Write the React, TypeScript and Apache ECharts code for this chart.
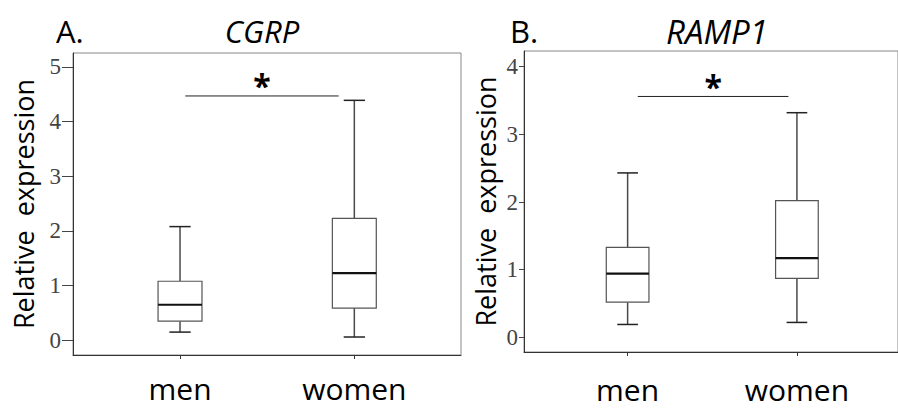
import React, { useEffect, useRef } from "react";
import * as echarts from "echarts";

// ---- data ----
const categories = ["men", "women"];
// five-number summaries: [min, Q1, median, Q3, max]
const cgrpMen = [0.15, 0.35, 0.65, 1.08, 2.08];
const cgrpWomen = [0.06, 0.59, 1.23, 2.23, 4.39];
const ramp1Men = [0.19, 0.52, 0.94, 1.33, 2.43];
const ramp1Women = [0.22, 0.87, 1.17, 2.02, 3.32];
const cgrpTicks = [0, 1, 2, 3, 4, 5];
const ramp1Ticks = [0, 1, 2, 3, 4];
const panelLetters = ["A.", "B."];
const geneNames = ["CGRP", "RAMP1"];
const yAxisTitle = "Relative  expression";
const sigMark = "*";
// significance bar: [from x, to x, level]
const cgrpSig = [0.03, 0.91, 4.47];
const ramp1Sig = [0.06, 0.95, 3.56];

const BOX_W = 0.252;
const CAP_W = 0.122;
const SANS = "'Open Sans', 'Noto Sans', sans-serif";
const SERIF = "'Liberation Serif', 'DejaVu Serif', serif";

const boxRows = (a: number[], b: number[]) => [
  [0, ...a],
  [1, ...b],
];

const renderBox = (params: any, api: any) => {
  const x = api.value(0);
  const lo = api.coord([x, api.value(1)]);
  const q1 = api.coord([x, api.value(2)])[1];
  const med = api.coord([x, api.value(3)])[1];
  const q3 = api.coord([x, api.value(4)])[1];
  const hi = api.coord([x, api.value(5)])[1];
  const cx = lo[0];
  const yLo = lo[1];
  const half = api.size([BOX_W, 0])[0] / 2;
  const capHalf = api.size([CAP_W, 0])[0] / 2;
  const wStyle = { stroke: "#4a4a4a", lineWidth: 1.5 };
  return {
    type: "group",
    children: [
      { type: "line", shape: { x1: cx, y1: hi, x2: cx, y2: q3 }, style: wStyle },
      { type: "line", shape: { x1: cx, y1: q1, x2: cx, y2: yLo }, style: wStyle },
      { type: "line", shape: { x1: cx - capHalf, y1: hi, x2: cx + capHalf, y2: hi }, style: { stroke: "#222", lineWidth: 1.5 } },
      { type: "line", shape: { x1: cx - capHalf, y1: yLo, x2: cx + capHalf, y2: yLo }, style: { stroke: "#222", lineWidth: 1.5 } },
      {
        type: "rect",
        shape: { x: cx - half, y: q3, width: half * 2, height: q1 - q3 },
        style: { fill: "#fff", stroke: "#555", lineWidth: 1.2 },
      },
      { type: "line", shape: { x1: cx - half, y1: med, x2: cx + half, y2: med }, style: { stroke: "#111", lineWidth: 2.2 } },
    ],
  };
};

const renderSig = (params: any, api: any) => {
  const y = api.value(2);
  const p1 = api.coord([api.value(0), y]);
  const p2 = api.coord([api.value(1), y]);
  return {
    type: "group",
    children: [
      { type: "line", shape: { x1: p1[0], y1: p1[1], x2: p2[0], y2: p2[1] }, style: { stroke: "#222", lineWidth: 1 } },
      {
        type: "text",
        x: (p1[0] + p2[0]) / 2,
        y: p1[1] - 10,
        style: {
          text: sigMark,
          fill: "#000",
          font: `bold 32px ${SANS}`,
          textAlign: "center",
          textVerticalAlign: "middle",
        },
      },
    ],
  };
};

const makeXAxis = (gridIndex: number, min: number, max: number, margin: number) => ({
  type: "value",
  gridIndex,
  min,
  max,
  splitLine: { show: false },
  axisLine: { show: true, onZero: false, lineStyle: { color: "#333", width: 1 } },
  axisTick: { show: true, customValues: [0, 1], length: 4, lineStyle: { color: "#333" } },
  axisLabel: {
    customValues: [0, 1],
    formatter: (v: number) => categories[Math.round(v)] ?? "",
    fontFamily: SANS,
    fontSize: 30,
    lineHeight: 30,
    color: "#000",
    margin,
  },
});

const makeYAxis = (
  gridIndex: number,
  min: number,
  max: number,
  ticks: number[],
  tickLen: number,
  nameGap: number
) => ({
  type: "value",
  gridIndex,
  min,
  max,
  splitLine: { show: false },
  axisLine: { show: true, onZero: false, lineStyle: { color: "#333", width: 1 } },
  axisTick: { show: true, customValues: ticks, length: tickLen, lineStyle: { color: "#444" } },
  axisLabel: { customValues: ticks, fontFamily: SERIF, fontSize: 23, color: "#444", margin: tickLen + 1 },
  name: yAxisTitle,
  nameLocation: "middle",
  nameRotate: 90,
  nameGap,
  nameTextStyle: { fontFamily: SANS, fontSize: 27, color: "#000" },
});

export default function App() {
  const ref = useRef<HTMLDivElement>(null);
  useEffect(() => {
    if (!ref.current) return;
    const chart = echarts.init(ref.current, undefined, { renderer: "svg" });
    const titleStyle = { fontFamily: SANS, fontSize: 31, fontWeight: "normal", color: "#000" };
    chart.setOption({
      animation: false,
      backgroundColor: "#fff",
      title: [
        { text: panelLetters[0], left: 51, top: 10, textStyle: titleStyle },
        { text: geneNames[0], left: 257, textAlign: "center", top: 10, textStyle: { ...titleStyle, fontStyle: "italic" } },
        { text: panelLetters[1], left: 505, top: 10, textStyle: titleStyle },
        { text: geneNames[1], left: 712, textAlign: "center", top: 10, textStyle: { ...titleStyle, fontStyle: "italic", fontSize: 33 } },
      ],
      grid: [
        { left: 73, top: 53, width: 388, height: 302, show: true, borderColor: "#888", borderWidth: 1, backgroundColor: "transparent" },
        { left: 524, top: 51, width: 380, height: 301, show: true, borderColor: "#888", borderWidth: 1, backgroundColor: "transparent" },
      ],
      xAxis: [makeXAxis(0, -0.614, 1.612, 18), makeXAxis(1, -0.612, 1.597, 22)],
      yAxis: [
        makeYAxis(0, -0.269, 5.256, cgrpTicks, 11, 36),
        makeYAxis(1, -0.217, 4.232, ramp1Ticks, 5, 25),
      ],
      series: [
        {
          type: "custom",
          xAxisIndex: 0,
          yAxisIndex: 0,
          renderItem: renderBox,
          encode: { x: 0, y: [1, 2, 3, 4, 5] },
          data: boxRows(cgrpMen, cgrpWomen),
          clip: false,
          silent: true,
        },
        {
          type: "custom",
          xAxisIndex: 1,
          yAxisIndex: 1,
          renderItem: renderBox,
          encode: { x: 0, y: [1, 2, 3, 4, 5] },
          data: boxRows(ramp1Men, ramp1Women),
          clip: false,
          silent: true,
        },
        {
          type: "custom",
          xAxisIndex: 0,
          yAxisIndex: 0,
          renderItem: renderSig,
          encode: { x: [0, 1], y: 2 },
          data: [cgrpSig],
          clip: false,
          silent: true,
        },
        {
          type: "custom",
          xAxisIndex: 1,
          yAxisIndex: 1,
          renderItem: renderSig,
          encode: { x: [0, 1], y: 2 },
          data: [ramp1Sig],
          clip: false,
          silent: true,
        },
      ],
    });
    return () => chart.dispose();
  }, []);
  return (
    <div
      ref={ref}
      style={{ position: "fixed", left: 0, top: 0, width: 898, height: 408, background: "#fff" }}
    />
  );
}
